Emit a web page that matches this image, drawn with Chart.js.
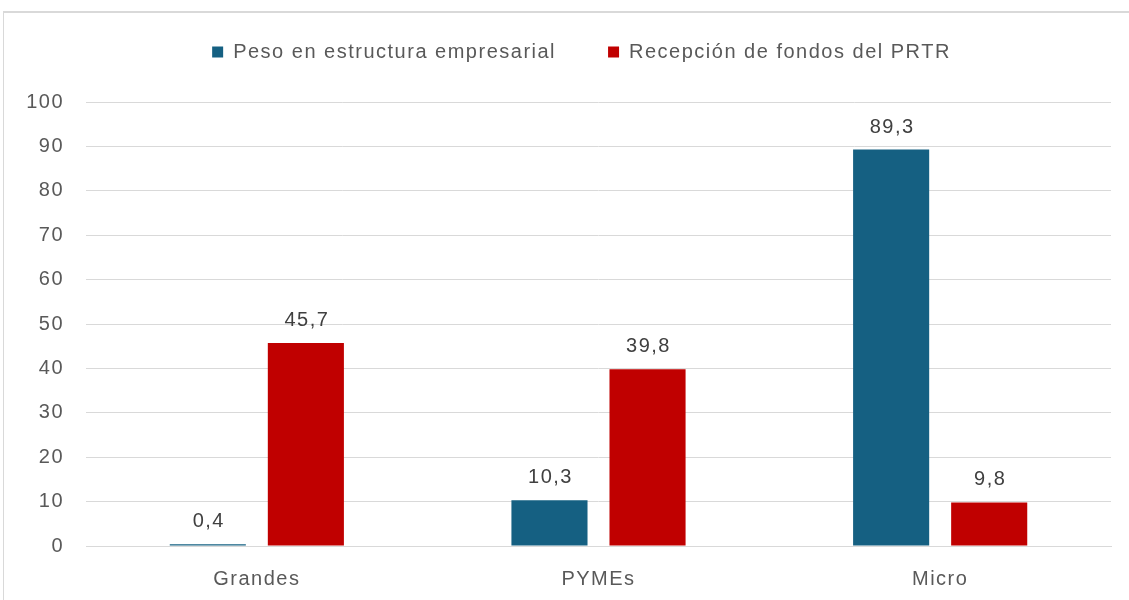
<!DOCTYPE html>
<html>
<head>
<meta charset="utf-8">
<script src="https://cdn.jsdelivr.net/npm/chart.js@4.4.1/dist/chart.umd.min.js"></script>
<style>
  html, body { margin: 0; padding: 0; background: #ffffff; }
  #wrap { position: relative; width: 1129px; height: 600px; overflow: hidden; }
  #frame { position: absolute; left: 3px; top: 11px; width: 1200px; height: 700px;
           border-left: 1px solid #d9d9d9; border-top: 2px solid #d9d9d9; }
  canvas { position: absolute; left: 0; top: 0; }
</style>
</head>
<body>
<div id="wrap">
  <div id="frame"></div>
  <canvas id="c" width="1129" height="600"></canvas>
</div>
<script>
const categories = ["Grandes", "PYMEs", "Micro"];
const seriesNames = ["Peso en estructura empresarial", "Recepción de fondos del PRTR"];
const pesoValues = [0.4, 10.3, 89.3];
const fondosValues = [45.7, 39.8, 9.8];
const yTicks = [0, 10, 20, 30, 40, 50, 60, 70, 80, 90, 100];

const FONT = "'Liberation Sans', Arial, sans-serif";
const SPACING = '1.5px';
const fmt = v => v.toFixed(1).replace('.', ',');

const spacingPlugin = {
  id: 'spacing',
  afterInit(chart) {
    const lg = chart.legend;
    if (lg) {
      const origFit = lg.fit.bind(lg);
      lg.fit = function () { origFit(); this.height = 112; };
      const origDraw = lg.draw.bind(lg);
      lg.draw = function () {
        this.ctx.save();
        this.ctx.translate(26, 0);
        origDraw();
        this.ctx.restore();
      };
    }
  },
  beforeUpdate(chart) { chart.ctx.letterSpacing = SPACING; },
  beforeDraw(chart) { chart.ctx.letterSpacing = SPACING; }
};

const labelPlugin = {
  id: 'valueLabels',
  afterDatasetsDraw(chart) {
    const ctx = chart.ctx;
    ctx.save();
    ctx.letterSpacing = SPACING;
    ctx.font = "20px " + FONT;
    ctx.fillStyle = '#404040';
    ctx.textAlign = 'center';
    ctx.textBaseline = 'alphabetic';
    chart.data.datasets.forEach((ds, di) => {
      const meta = chart.getDatasetMeta(di);
      meta.data.forEach((bar, i) => {
        ctx.fillText(fmt(ds.data[i]), bar.x + 1, bar.y - 17);
      });
    });
    ctx.restore();
  }
};

new Chart(document.getElementById('c'), {
  type: 'bar',
  data: {
    labels: categories,
    datasets: [
      { label: seriesNames[0], data: pesoValues, backgroundColor: '#156082', borderWidth: 0 },
      { label: seriesNames[1], data: fondosValues, backgroundColor: '#c00000', borderWidth: 0 }
    ]
  },
  options: {
    responsive: false,
    animation: false,
    devicePixelRatio: 1,
    layout: { padding: { left: 0, right: 18, top: -10, bottom: 0 } },
    datasets: { bar: { categoryPercentage: 0.574, barPercentage: 0.776 } },
    plugins: {
      legend: {
        position: 'top',
        labels: {
          boxWidth: 11, boxHeight: 11, padding: 52,
          color: '#595959',
          font: { family: FONT, size: 20 }
        }
      },
      tooltip: { enabled: false }
    },
    scales: {
      x: {
        grid: { display: false },
        border: { display: true, color: '#d9d9d9', width: 1 },
        ticks: { color: '#595959', font: { family: FONT, size: 20 }, padding: 13 },
        afterFit(scale) { scale.height = 54; }
      },
      y: {
        min: 0, max: 100,
        afterBuildTicks(scale) { scale.ticks = yTicks.map(v => ({ value: v })); },
        grid: { color: '#d9d9d9', drawTicks: false, lineWidth: 1 },
        border: { display: false },
        ticks: { color: '#595959', font: { family: FONT, size: 20 }, padding: 22 },
        afterFit(scale) { scale.width = 86; }
      }
    }
  },
  plugins: [spacingPlugin, labelPlugin]
});
</script>
</body>
</html>
